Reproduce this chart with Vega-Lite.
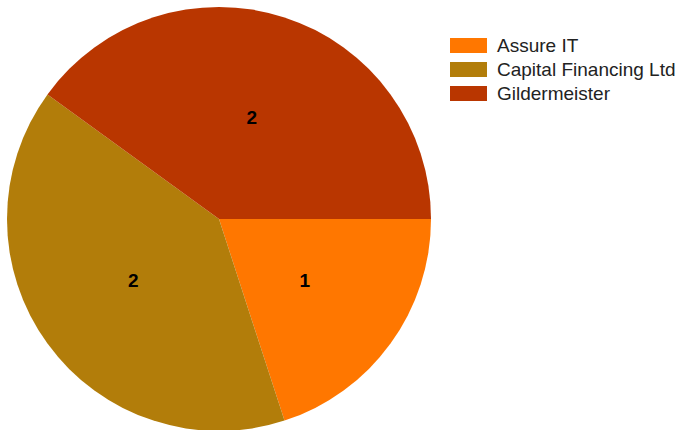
{
  "$schema": "https://vega.github.io/schema/vega-lite/v6.json",
  "width": 438,
  "height": 438,
  "padding": 0,
  "autosize": {"type": "pad"},
  "background": "white",
  "view": {"stroke": null},
  "data": {
    "values": [
      {"company": "Assure IT", "count": 1, "order": 1},
      {"company": "Capital Financing Ltd", "count": 2, "order": 2},
      {"company": "Gildermeister", "count": 2, "order": 3}
    ]
  },
  "encoding": {
    "theta": {
      "field": "count",
      "type": "quantitative",
      "stack": true,
      "scale": {"range": [1.5708, 7.854]}
    },
    "order": {"field": "order", "type": "quantitative"}
  },
  "layer": [
    {
      "mark": {"type": "arc", "outerRadius": 212},
      "encoding": {
        "color": {
          "field": "company",
          "type": "nominal",
          "scale": {
            "domain": ["Assure IT", "Capital Financing Ltd", "Gildermeister"],
            "range": ["#ff7700", "#b27d0a", "#b93600"]
          },
          "legend": {
            "title": null,
            "orient": "none",
            "legendX": 459,
            "legendY": 36,
            "symbolType": "M-2,-0.81L2,-0.81L2,0.81L-2,0.81Z",
            "symbolSize": 342,
            "symbolStrokeWidth": 0,
            "symbolOpacity": 1,
            "labelFont": "Liberation Sans",
            "labelFontSize": 19,
            "labelColor": "#222222",
            "labelOffset": 19,
            "labelLimit": 260,
            "rowPadding": 4
          }
        }
      }
    },
    {
      "mark": {
        "type": "text",
        "radius": 106,
        "font": "Liberation Sans",
        "fontSize": 19,
        "fontWeight": "bold",
        "color": "black"
      },
      "encoding": {
        "text": {"field": "count", "type": "quantitative"}
      }
    }
  ]
}
